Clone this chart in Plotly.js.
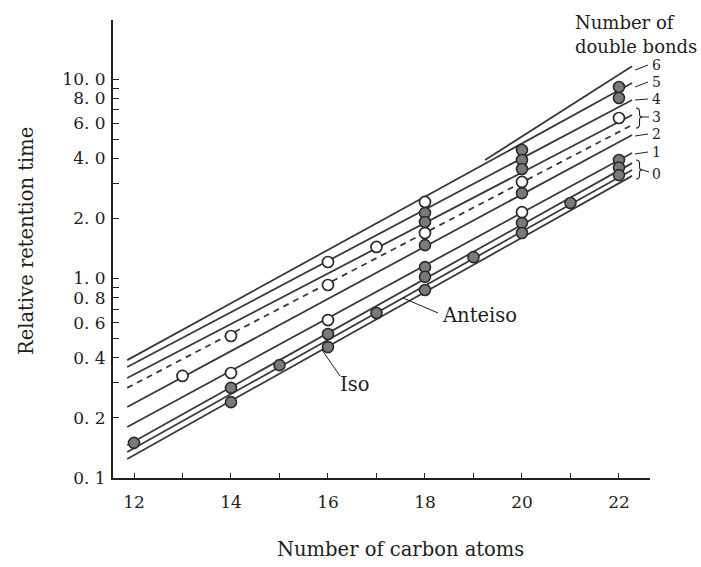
<!DOCTYPE html>
<html>
<head>
<meta charset="utf-8">
<script src="https://cdn.plot.ly/plotly-3.0.1.min.js"></script>
<style>html,body{margin:0;padding:0;background:#fff;}#chart{width:701px;height:567px;}</style>
</head>
<body>
<div id="chart"></div>
<script>
// ---- data ----
const carbonTicks = [12, 13, 14, 15, 16, 17, 18, 19, 20, 21, 22];
const carbonTickText = ['12', '', '14', '', '16', '', '18', '', '20', '', '22'];
const rrtTicks = [0.1, 0.2, 0.3, 0.4, 0.5, 0.6, 0.7, 0.8, 0.9, 1, 2, 3, 4, 5, 6, 7, 8, 9, 10];
const rrtTickText = ['0. 1', '0. 2', '', '0. 4', '', '0. 6', '', '0. 8', '', '1. 0', '2. 0', '', '4. 0', '', '6. 0', '', '8. 0', '', '10. 0'];

// regression lines (number of double bonds): start/end carbon number and relative retention time
const lineNames  = ['6', '5', '4', '3a', '3b', '2', '1', '0', 'Anteiso', 'Iso'];
const lineStartC = [19.24, 11.86, 11.86, 11.86, 11.86, 11.86, 11.86, 11.86, 11.86, 11.86];
const lineEndC   = [22.27, 22.27, 22.27, 22.27, 22.27, 22.27, 22.27, 22.27, 22.27, 22.27];
const lineStartV = [3.93, 0.390, 0.360, 0.317, 0.283, 0.227, 0.180, 0.146, 0.135, 0.1245];
const lineEndV   = [11.6, 9.55, 7.85, 6.60, 5.88, 5.24, 4.26, 3.79, 3.50, 3.27];

// measured points
const openC = [13, 14, 14, 16, 16, 16, 17, 18, 18, 20, 20, 22];
const openV = [0.325, 0.515, 0.336, 1.21, 0.928, 0.619, 1.44, 2.42, 1.69, 3.05, 2.15, 6.38];
const filledC = [12, 14, 14, 15, 16, 16, 17, 18, 18, 18, 18, 18, 18, 19, 20, 20, 20, 20, 20, 20, 21, 22, 22, 22, 22, 22];
const filledV = [0.150, 0.283, 0.240, 0.368, 0.527, 0.453, 0.672, 2.13, 1.92, 1.47, 1.14, 1.02, 0.876, 1.28, 4.41, 3.93, 3.54, 2.68, 1.90, 1.69, 2.39, 9.12, 8.03, 3.93, 3.60, 3.30];

// ---- styling / layout ----
const W = 701, H = 567;
const M = {l: 113, r: 51, t: 20, b: 89};
const PW = W - M.l - M.r, PH = H - M.t - M.b;
const px = x => (x - M.l) / PW;          // pixel -> paper x
const py = y => (H - M.b - y) / PH;      // pixel -> paper y
const FONT = 'DejaVu Serif, Liberation Serif, serif';
const INK = '#3a3a3a';
const TXT = '#1e1e1e';

const dashedLines = {'3b': '6px,5px'};
const traces = [];
lineNames.forEach((n, i) => {
  traces.push({
    type: 'scatter', mode: 'lines', name: n,
    x: [lineStartC[i], lineEndC[i]], y: [lineStartV[i], lineEndV[i]],
    line: {color: INK, width: 1.8, dash: dashedLines[n] || 'solid'},
    hoverinfo: 'skip', showlegend: false
  });
});
traces.push({
  type: 'scatter', mode: 'markers', x: filledC, y: filledV, showlegend: false,
  marker: {symbol: 'circle', size: 11, color: '#7a7a7a', line: {color: '#2a2a2a', width: 1.6}}
});
traces.push({
  type: 'scatter', mode: 'markers', x: openC, y: openV, showlegend: false,
  marker: {symbol: 'circle', size: 11, color: '#ffffff', line: {color: '#2a2a2a', width: 1.7}}
});

const ann = [];
const txt = (x, y, t, size, opts) => ann.push(Object.assign({
  xref: 'paper', yref: 'paper', x: px(x), y: py(y), text: t, showarrow: false,
  xanchor: 'left', yanchor: 'middle', font: {family: FONT, size: size, color: TXT}
}, opts || {}));

// axis titles
txt(400, 549, 'Number of carbon atoms', 19.5, {xanchor: 'center'});
txt(27, 241, 'Relative retention time', 19.5, {xanchor: 'center', textangle: -90});
// legend heading
txt(573, 22, 'Number of', 18);
txt(573, 47, 'double bonds', 18);
// right-hand labels
txt(650, 65, '6', 14);
txt(650, 82, '5', 14);
txt(650, 99, '4', 14);
txt(650, 117, '3', 14);
txt(650, 134, '2', 14);
txt(650, 152, '1', 14);
txt(650, 174, '0', 14);
// Iso / Anteiso labels
txt(440, 315, 'Anteiso', 19.5);
txt(338, 384, 'Iso', 19.5);

// leader lines and braces (pixel positions converted to paper)
const seg = (x0, y0, x1, y1) => ({type: 'line', xref: 'paper', yref: 'paper',
  x0: px(x0), y0: py(y0), x1: px(x1), y1: py(y1), line: {color: TXT, width: 1}});
const P = (x, y) => px(x).toFixed(5) + ',' + py(y).toFixed(5);
const brace = (x0, yT, yB, w, tipY) => {
  const yM = tipY, h = yB - yT, xm = x0 + w * 0.5;
  const d = 'M' + P(x0, yT) + ' Q' + P(xm, yT) + ' ' + P(xm, yT + h * 0.18) +
    ' L' + P(xm, yM - h * 0.14) + ' Q' + P(xm, yM) + ' ' + P(x0 + w, yM) +
    ' Q' + P(xm, yM) + ' ' + P(xm, yM + h * 0.14) +
    ' L' + P(xm, yB - h * 0.18) + ' Q' + P(xm, yB) + ' ' + P(x0, yB);
  return {type: 'path', xref: 'paper', yref: 'paper', path: d, line: {color: TXT, width: 1.1}};
};
const shapes = [
  seg(635, 70, 648, 65),
  seg(635, 87, 648, 82),
  seg(635, 100, 648, 99),
  seg(643, 117, 649, 117),
  seg(635, 136, 648, 134),
  seg(635, 154, 648, 152),
  brace(636, 108, 128, 7, 117),
  brace(636, 160, 179, 7, 170),
  seg(643, 170, 649, 172),
  seg(438, 313, 403, 298),
  seg(340, 376, 322, 350)
];

const layout = {
  width: W, height: H, margin: M,
  paper_bgcolor: '#fff', plot_bgcolor: '#fff',
  showlegend: false,
  font: {family: FONT, color: TXT},
  xaxis: {
    range: [11.567, 22.64], tickvals: carbonTicks, ticktext: carbonTickText,
    ticks: 'inside', ticklen: 5, tickwidth: 1, tickcolor: '#222',
    showline: true, linecolor: '#222', linewidth: 2, showgrid: false, zeroline: false,
    tickfont: {family: FONT, size: 17, color: TXT}, ticklabelstandoff: 8
  },
  yaxis: {
    type: 'log', range: [-1, 1.296], tickvals: rrtTicks, ticktext: rrtTickText,
    ticks: 'inside', ticklen: 6, tickwidth: 1, tickcolor: '#222',
    showline: true, linecolor: '#222', linewidth: 2, showgrid: false, zeroline: false,
    tickfont: {family: FONT, size: 17, color: TXT}, ticklabelstandoff: 2
  },
  annotations: ann,
  shapes: shapes
};
Plotly.newPlot('chart', traces, layout, {staticPlot: true, displayModeBar: false});
</script>
</body>
</html>
